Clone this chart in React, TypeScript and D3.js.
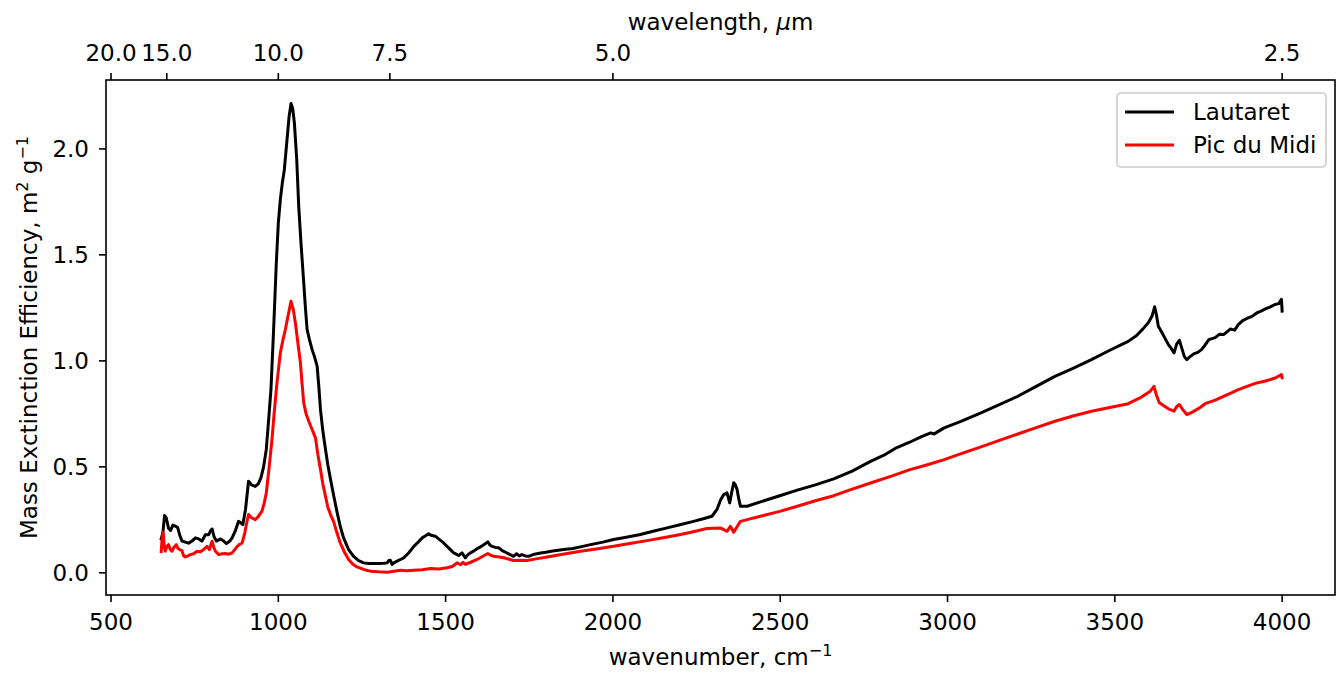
import React from "react";
import * as d3 from "d3";

// ---------- DATA ----------
const lautaretX = [650,655,660,665,672,678,685,692,699,705,712,722,732,742,752,762,772,782,792,798,802,808,815,827,837,845,855,862,872,881,888,894,902,911,920,931,940,948,956,964,971,978,986,994,1000,1006,1012,1018,1026,1032,1038,1043,1048,1055,1061,1068,1076,1081,1086,1093,1101,1108,1116,1121,1126,1133,1141,1148,1156,1166,1176,1185,1195,1210,1225,1240,1255,1270,1285,1300,1315,1325,1330,1335,1340,1345,1355,1365,1375,1390,1405,1418,1430,1440,1449,1459,1469,1481,1494,1509,1524,1532,1539,1549,1559,1566,1574,1586,1599,1612,1626,1633,1639,1649,1659,1669,1679,1690,1703,1712,1720,1728,1738,1748,1765,1784,1800,1820,1853,1880,1910,1933,1970,2002,2040,2082,2120,2162,2200,2241,2270,2296,2311,2322,2331,2341,2349,2355,2361,2366,2371,2376,2381,2401,2441,2501,2551,2605,2660,2715,2770,2810,2847,2885,2924,2950,2960,2970,2990,3040,3100,3150,3210,3265,3321,3375,3430,3485,3540,3565,3584,3600,3611,3619,3624,3630,3644,3652,3660,3668,3677,3685,3693,3700,3708,3715,3725,3737,3748,3759,3770,3781,3800,3812,3825,3845,3858,3869,3882,3895,3910,3924,3937,3950,3965,3979,3990,3998,4000];
const lautaretY = [0.16,0.19,0.27,0.26,0.21,0.2,0.225,0.22,0.215,0.18,0.15,0.145,0.14,0.15,0.165,0.16,0.15,0.18,0.18,0.2,0.207,0.17,0.15,0.16,0.15,0.138,0.15,0.165,0.2,0.243,0.235,0.228,0.3,0.432,0.415,0.408,0.42,0.448,0.5,0.582,0.72,0.865,1.15,1.462,1.65,1.761,1.84,1.902,2.044,2.15,2.214,2.19,2.123,1.95,1.729,1.55,1.368,1.25,1.148,1.1,1.053,1.02,0.975,0.88,0.77,0.67,0.582,0.51,0.441,0.36,0.283,0.22,0.165,0.11,0.078,0.058,0.047,0.044,0.044,0.044,0.045,0.047,0.058,0.059,0.04,0.047,0.055,0.063,0.071,0.095,0.125,0.145,0.165,0.175,0.184,0.176,0.173,0.158,0.141,0.118,0.094,0.088,0.082,0.094,0.071,0.085,0.094,0.105,0.118,0.13,0.146,0.13,0.125,0.12,0.118,0.105,0.097,0.088,0.078,0.09,0.08,0.086,0.08,0.078,0.088,0.094,0.097,0.103,0.11,0.115,0.125,0.133,0.145,0.157,0.168,0.181,0.196,0.212,0.227,0.243,0.255,0.267,0.299,0.345,0.369,0.377,0.33,0.38,0.425,0.415,0.393,0.35,0.314,0.314,0.335,0.365,0.39,0.415,0.443,0.48,0.526,0.555,0.59,0.615,0.644,0.66,0.655,0.665,0.684,0.715,0.755,0.79,0.833,0.88,0.927,0.965,1.006,1.05,1.092,1.12,1.151,1.18,1.21,1.255,1.22,1.163,1.124,1.1,1.077,1.06,1.038,1.08,1.097,1.06,1.02,1.006,1.02,1.034,1.04,1.053,1.075,1.1,1.11,1.125,1.124,1.15,1.145,1.171,1.19,1.2,1.21,1.226,1.235,1.245,1.255,1.266,1.27,1.29,1.235];

const picX = [650,653,656,659,662,667,672,677,682,688,695,700,705,712,717,722,730,737,747,757,767,777,787,794,798,802,807,812,822,832,842,852,862,870,877,885,892,900,906,911,920,931,940,951,958,964,972,981,988,996,1006,1014,1021,1030,1038,1045,1051,1058,1066,1071,1076,1083,1091,1100,1111,1118,1126,1133,1141,1148,1156,1165,1175,1185,1197,1210,1222,1235,1255,1275,1300,1325,1345,1365,1385,1405,1430,1455,1480,1504,1520,1534,1545,1552,1559,1575,1594,1610,1626,1635,1644,1660,1674,1690,1703,1720,1743,1770,1803,1850,1903,1950,2002,2050,2102,2150,2202,2240,2281,2321,2341,2351,2361,2370,2381,2401,2441,2501,2551,2605,2660,2715,2770,2830,2888,2940,2990,3045,3100,3155,3210,3265,3321,3375,3430,3485,3540,3575,3606,3617,3624,3633,3645,3660,3677,3685,3693,3703,3715,3727,3737,3755,3770,3800,3825,3850,3869,3895,3924,3950,3979,3998,4000];
const picY = [0.1,0.17,0.19,0.12,0.102,0.125,0.133,0.11,0.102,0.12,0.133,0.115,0.11,0.105,0.08,0.075,0.08,0.086,0.09,0.102,0.1,0.11,0.125,0.11,0.13,0.149,0.12,0.102,0.086,0.09,0.091,0.088,0.094,0.11,0.125,0.135,0.141,0.19,0.24,0.275,0.26,0.251,0.265,0.291,0.33,0.377,0.49,0.629,0.76,0.896,1.038,1.1,1.148,1.22,1.281,1.24,1.179,1.09,0.991,0.89,0.802,0.75,0.715,0.68,0.637,0.56,0.487,0.42,0.361,0.31,0.275,0.243,0.19,0.141,0.1,0.063,0.042,0.028,0.016,0.008,0.005,0.003,0.008,0.012,0.01,0.012,0.015,0.02,0.018,0.024,0.03,0.047,0.038,0.05,0.04,0.05,0.063,0.077,0.091,0.083,0.078,0.075,0.071,0.064,0.058,0.06,0.058,0.066,0.075,0.088,0.102,0.113,0.125,0.138,0.152,0.166,0.181,0.194,0.209,0.212,0.196,0.22,0.192,0.215,0.243,0.251,0.267,0.291,0.314,0.34,0.364,0.395,0.424,0.455,0.487,0.51,0.534,0.565,0.594,0.625,0.655,0.685,0.715,0.74,0.762,0.78,0.798,0.825,0.857,0.88,0.84,0.802,0.79,0.774,0.763,0.785,0.794,0.77,0.747,0.755,0.763,0.78,0.798,0.815,0.833,0.85,0.864,0.88,0.896,0.905,0.919,0.935,0.92];

const xTicks = [500, 1000, 1500, 2000, 2500, 3000, 3500, 4000];
const yTicks = [0.0, 0.5, 1.0, 1.5, 2.0];
const topTicks = [20.0, 15.0, 10.0, 7.5, 5.0, 2.5];
const seriesNames = ["Lautaret", "Pic du Midi"];
const seriesColors = ["#000000", "#ff0000"];

// ---------- LAYOUT ----------
const W = 1336, H = 674;
const L = 106, R = 1335, T = 80, B = 595;
const FS = 23;
const SUP = 16;
const FONT = "DejaVu Sans, sans-serif";

export default function App() {
  const x = d3.scaleLinear().domain([485, 4158]).range([L, R]);
  const y = d3.scaleLinear().domain([-0.1045, 2.325]).range([B, T]);
  const line = d3.line<[number, number]>().x(d => x(d[0])).y(d => y(d[1]));
  const series = [
    d3.zip(lautaretX, lautaretY) as [number, number][],
    d3.zip(picX, picY) as [number, number][],
  ];
  const cx = (L + R) / 2;
  const cy = (T + B) / 2;
  return (
    <svg width={W} height={H} style={{ position: "absolute", left: 0, top: 0, background: "#fff" }}
      fontFamily={FONT} fontSize={FS}>
      <defs>
        <clipPath id="plotclip"><rect x={L} y={T} width={R - L} height={B - T} /></clipPath>
      </defs>
      <g clipPath="url(#plotclip)">
        {series.map((s, i) => (
          <path key={i} d={line(s) || ""} fill="none" stroke={seriesColors[i]} strokeWidth={3}
            strokeLinejoin="round" strokeLinecap="square" />
        ))}
      </g>
      <rect x={L} y={T} width={R - L} height={B - T} fill="none" stroke="#000" strokeWidth={1.6} />
      {xTicks.map(t => (
        <g key={"x" + t}>
          <line x1={x(t)} x2={x(t)} y1={B} y2={B + 7} stroke="#000" strokeWidth={1.6} />
          <text x={x(t)} y={630} textAnchor="middle">{t}</text>
        </g>
      ))}
      {yTicks.map(t => (
        <g key={"y" + t}>
          <line x1={L - 7} x2={L} y1={y(t)} y2={y(t)} stroke="#000" strokeWidth={1.6} />
          <text x={89} y={y(t) + 8.4} textAnchor="end">{d3.format(".1f")(t)}</text>
        </g>
      ))}
      {topTicks.map(t => (
        <g key={"t" + t}>
          <line x1={x(10000 / t)} x2={x(10000 / t)} y1={T} y2={T - 7} stroke="#000" strokeWidth={1.6} />
          <text x={x(10000 / t)} y={61} textAnchor="middle">{d3.format(".1f")(t)}</text>
        </g>
      ))}
      <text x={cx} y={30} textAnchor="middle">wavelength, <tspan fontStyle="italic">μ</tspan>m</text>
      <text x={cx} y={665} textAnchor="middle">wavenumber, cm<tspan dy={-9} fontSize={SUP}>−1</tspan></text>
      <text transform={`translate(37,${cy}) rotate(-90)`} textAnchor="middle">
        Mass Exctinction Efficiency, m<tspan dy={-9} fontSize={SUP}>2</tspan><tspan dy={9}> g</tspan><tspan dy={-9} fontSize={SUP}>−1</tspan>
      </text>
      <g>
        <rect x={1117} y={93} width={209} height={74} rx={4} fill="#fff" fillOpacity={0.8} stroke="#cccccc" strokeWidth={1.6} />
        {seriesNames.map((n, i) => (
          <g key={n}>
            <line x1={1125} x2={1174} y1={112 + i * 33} y2={112 + i * 33} stroke={seriesColors[i]} strokeWidth={3} />
            <text x={1193} y={112 + i * 33 + 8.4}>{n}</text>
          </g>
        ))}
      </g>
    </svg>
  );
}
